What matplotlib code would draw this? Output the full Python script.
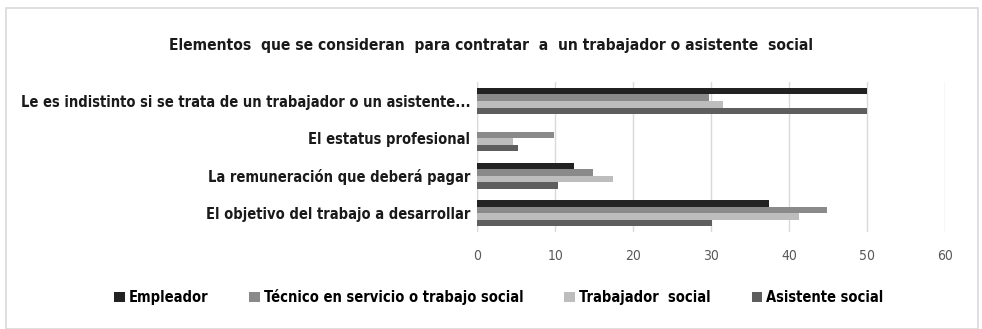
import matplotlib.pyplot as plt
import numpy as np
from matplotlib.patches import Rectangle

plt.rcParams['font.family'] = ['DejaVu Sans']
plt.rcParams['font.stretch'] = 'condensed'

categorias = ['El objetivo del trabajo a desarrollar',
              'La remuneración que deberá pagar',
              'El estatus profesional',
              'Le es indistinto si se trata de un trabajador o un asistente...']
series = ['Empleador', 'Técnico en servicio o trabajo social',
          'Trabajador  social', 'Asistente social']
empleador = [37.4, 12.4, 0, 50]
tecnico = [44.9, 14.8, 9.9, 29.8]
trabajador = [41.3, 17.4, 4.6, 31.6]
asistente = [30.1, 10.4, 5.2, 50]
colores = ['#222222', '#8a8a8a', '#bdbdbd', '#5e5e5e']

fig = plt.figure(figsize=(9.82, 3.29), dpi=100)
fig.patches.append(Rectangle((0.006, 0.0), 0.99, 0.975, transform=fig.transFigure,
                             fill=False, edgecolor='#d9d9d9', lw=1.2))
ax = fig.add_axes([0.486, 0.295, 0.476, 0.455])

y = np.arange(len(categorias))
h = 0.175
valores = [empleador, tecnico, trabajador, asistente]
for i, v in enumerate(valores):
    ax.barh(y + (1.5 - i) * h, v, height=h, color=colores[i], label=series[i], zorder=3)

ax.set_xlim(0, 60)
ax.set_ylim(-0.5, 3.5)
ax.set_xticks(range(0, 61, 10))
ax.set_yticks(y)
ax.set_yticklabels(categorias, fontsize=10.5, fontweight='bold', color='#1a1a1a')
ax.tick_params(axis='x', length=0, labelsize=10, labelcolor='#595959', pad=12)
ax.tick_params(axis='y', length=0, pad=5)
ax.xaxis.grid(True, color='#d9d9d9', lw=1, zorder=0)
for s in ax.spines.values():
    s.set_visible(False)
ax.axvline(0, color='#d9d9d9', lw=1, zorder=1)

fig.text(0.5, 0.862, 'Elementos  que se consideran  para contratar  a  un trabajador o asistente  social',
         ha='center', va='center', fontsize=11.2, fontweight='bold', color='#1a1a1a')

ax.legend(loc='center', bbox_to_anchor=(0.508, 0.098), bbox_transform=fig.transFigure,
          ncol=4, frameon=False,
          handlelength=0.7, handleheight=0.7, handletextpad=0.3, columnspacing=2.8,
          prop={'weight': 'bold', 'size': 10.5, 'stretch': 'condensed'})

fig.savefig('out.png', dpi=100)
